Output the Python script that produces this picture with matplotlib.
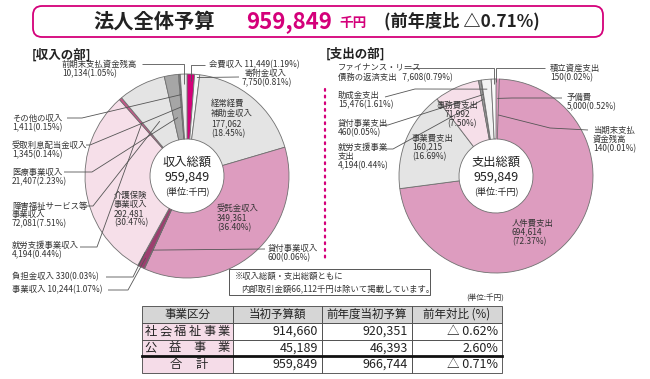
import matplotlib
matplotlib.use('Agg')
import matplotlib.pyplot as plt
from matplotlib.patches import FancyBboxPatch, Rectangle
import numpy as np

plt.rcParams['font.family'] = ['Noto Sans CJK JP', 'DejaVu Sans']

# ---------------- data ----------------
income_names = ['会費収入', '寄附金収入', '経常経費補助金収入', '受託金収入', '貸付事業収入',
                '事業収入', '負担金収入', '介護保険事業収入', '就労支援事業収入',
                '障害福祉サービス等事業収入', '医療事業収入', '受取利息配当金収入',
                'その他の収入', '前期末支払資金残高']
income_values = [11449, 7750, 177062, 349361, 600, 10244, 330, 292481, 4194,
                 72081, 21407, 1345, 1411, 10134]
income_pcts = [1.19, 0.81, 18.45, 36.40, 0.06, 1.07, 0.03, 30.47, 0.44,
               7.51, 2.23, 0.14, 0.15, 1.05]

expense_names = ['積立資産支出', '予備費', '当期末支払資金残高', '人件費支出', '事業費支出',
                 '事務費支出', '就労支援事業支出', '貸付事業支出', '助成金支出',
                 'ファイナンス・リース債務の返済支出']
expense_values = [150, 5000, 140, 694614, 160215, 71992, 4194, 460, 15476, 7608]
expense_pcts = [0.02, 0.52, 0.01, 72.37, 16.69, 7.50, 0.44, 0.05, 1.61, 0.79]

total = 959849
total_change = '△0.71%'
internal_amount = 66112

table_header = ['事業区分', '当初予算額', '前年度当初予算', '前年対比 (%)']
table_names = ['社会福祉事業', '公益事業', '合計']
table_current = [914660, 45189, 959849]
table_previous = [920351, 46393, 966744]
table_ratio = ['△ 0.62%', '2.60%', '△ 0.71%']

# ---------------- style ----------------
W, H = 650, 379
MAG = '#d4007a'
PINK = '#dd9cbf'
LPINK = '#f6dfe9'
LGRAY = '#e4e4e4'
TXT = '#333333'
EDGE = '#707070'

inc_colors = [MAG, '#f7f7f7', LGRAY, PINK, PINK, '#9c3e6f', LPINK, LPINK, '#c9558a',
              LGRAY, '#a6a6a6', LGRAY, LGRAY, '#ececec']
exp_colors = ['#a0003c', PINK, PINK, PINK, LGRAY, LPINK, '#9a9a9a', '#eeeeee',
              '#f2f2f2', '#fafafa']

fig = plt.figure(figsize=(6.5, 3.79), dpi=100)
fig.patch.set_facecolor('white')

PAD = 1.03


def pie_axes(cx, cy, R):
    ax = fig.add_axes([(cx - R * PAD) / W, (H - cy - R * PAD) / H,
                       2 * R * PAD / W, 2 * R * PAD / H])
    return ax


axL = pie_axes(187, 176, 102)
wL, _ = axL.pie(income_values, colors=inc_colors, startangle=90, counterclock=False,
                wedgeprops=dict(width=1 - 37 / 102, edgecolor=EDGE, linewidth=0.6))
axR = pie_axes(496, 176, 97)
wR, _ = axR.pie(expense_values, colors=exp_colors, startangle=90, counterclock=False,
                wedgeprops=dict(width=1 - 37 / 97, edgecolor=EDGE, linewidth=0.6))
for w in wR[1:3]:
    w.set_edgecolor(PINK)
for ax in (axL, axR):
    ax.set_xlim(-PAD, PAD)
    ax.set_ylim(-PAD, PAD)
    ax.set_aspect('auto')
    ax.axis('off')

ov = fig.add_axes([0, 0, 1, 1])
ov.set_xlim(0, W)
ov.set_ylim(H, 0)
ov.axis('off')
ov.patch.set_alpha(0)


def target(ax, wedge, r):
    a = np.deg2rad((wedge.theta1 + wedge.theta2) / 2)
    disp = ax.transData.transform((r * np.cos(a), r * np.sin(a)))
    return ov.transData.inverted().transform(disp)


def label_lines(name, v, p, fmt, breaks):
    parts = []
    prev = 0
    for b in breaks:
        parts.append(name[prev:b])
        prev = b
    parts.append(name[prev:])
    if fmt == 'inline':
        return [f'{name} {v:,}({p:.2f}%)']
    if fmt == 'two':
        return parts + [f'{v:,}({p:.2f}%)']
    if fmt == 'inside':
        return parts + [f'{v:,}', f'({p:.2f}%)']
    if fmt == 'tail':
        return parts[:-1] + [parts[-1] + f'   {v:,}({p:.2f}%)']
    return parts


FS = 6.0
LC = '#555555'


def draw_labels(ax, wedges, names, values, pcts, specs):
    for s in specs:
        i = s['i']
        lines = label_lines(names[i], values[i], pcts[i], s['fmt'], s.get('br', []))
        xs = s['x'] if isinstance(s['x'], list) else [s['x']] * len(lines)
        for k, ln in enumerate(lines):
            ov.text(xs[k], s['y'] + k * s.get('dy', 9.3), ln, fontsize=FS, color=TXT,
                    ha='left', va='center')
        if 'path' in s:
            tx, ty = target(ax, wedges[i], s['r'])
            pts = list(s['path'])
            if s.get('vert'):
                pts.append((tx, pts[-1][1]))
            pts.append((tx, ty))
            xs_, ys_ = zip(*pts)
            ov.plot(xs_, ys_, color=LC, lw=0.6, solid_capstyle='butt')


inc_specs = [
    dict(i=13, x=62, y=64, fmt='two', br=[], path=[(142, 64)], vert=True, r=0.9),
    dict(i=0, x=209, y=65, fmt='inline', path=[(205, 65)], vert=True, r=0.93),
    dict(i=1, x=[245, 242], y=73, dy=10, fmt='two', path=[(239, 77)], r=0.97),
    dict(i=2, x=211, y=103, dy=10.3, fmt='inside', br=[4]),
    dict(i=3, x=217, y=209, fmt='inside'),
    dict(i=7, x=114, y=195, fmt='inside', br=[4]),
    dict(i=4, x=268, y=248, fmt='two', path=[(265, 249)], r=0.8),
    dict(i=5, x=12, y=290, fmt='inline', path=[(108, 290), (128, 290)], r=0.9),
    dict(i=6, x=12, y=277, fmt='inline', path=[(106, 277), (133, 277)], r=0.85),
    dict(i=8, x=12, y=245, fmt='two', path=[(80, 247), (97, 247)], r=0.68),
    dict(i=9, x=12, y=206, dy=8.7, fmt='two', br=[9], path=[(86, 206), (93, 206)], r=0.6),
    dict(i=10, x=12, y=172, fmt='two', path=[(64, 172), (92, 172)], r=0.58),
    dict(i=11, x=12, y=145, dy=10, fmt='two', path=[(86, 145), (90, 145)], r=0.68),
    dict(i=12, x=12, y=118, fmt='two', path=[(67, 118), (82, 118)], r=0.8),
]

exp_specs = [
    dict(i=9, x=338, y=68, fmt='tail', br=[10], path=[(404, 68)], vert=True, r=0.95),
    dict(i=8, x=338, y=95, fmt='two', path=[(385, 97), (415, 89)], r=0.9),
    dict(i=7, x=338, y=123, fmt='two', path=[(381, 125), (388, 125)], r=0.85),
    dict(i=6, x=338, y=147, fmt='two', br=[6], path=[(386, 149), (393, 149)], r=0.8),
    dict(i=0, x=550, y=68, fmt='two', path=[(545, 68)], vert=True, r=0.97),
    dict(i=1, x=567, y=97, fmt='two', path=[(562, 98), (512, 98)], r=0.8),
    dict(i=2, x=593, y=130, fmt='two', br=[5], path=[(588, 130), (550, 128)], r=0.63),
    dict(i=5, x=[437, 445, 447], y=105, fmt='inside'),
    dict(i=4, x=412, y=138, fmt='inside'),
    dict(i=3, x=512, y=223, fmt='inside'),
]

draw_labels(axL, wL, income_names, income_values, income_pcts, inc_specs)
draw_labels(axR, wR, expense_names, expense_values, expense_pcts, exp_specs)

# center texts
for cx, word in ((187, '収入総額'), (496, '支出総額')):
    ov.text(cx, 162, word, fontsize=8.8, ha='center', va='center', color='#222222')
    ov.text(cx, 177, f'{total:,}', fontsize=9.0, ha='center', va='center', color='#222222')
    ov.text(cx, 191, '(単位:千円)', fontsize=6.5, ha='center', va='center', color='#222222')

# title
ov.add_patch(FancyBboxPatch((33, 6), 570, 31, boxstyle='round,pad=0,rounding_size=9',
                            fc='white', ec=MAG, lw=1.3))
ov.text(93, 21.5, '法人全体予算', fontsize=14.6, fontweight='bold', ha='left', va='center',
        color='#222222')
ov.text(246, 21.5, f'{total:,}', fontsize=16, fontweight='bold', ha='left', va='center',
        color=MAG)
ov.text(339, 23, '千円', fontsize=9.8, fontweight='bold', ha='left', va='center', color=MAG)
ov.text(384, 21.5, f'(前年度比 {total_change})', fontsize=12.4, fontweight='bold',
        ha='left', va='center', color='#222222')

# section headers
ov.text(32, 55, '[収入の部]', fontsize=9, fontweight='bold', ha='left', va='center',
        color='#222222')
ov.text(326, 54, '[支出の部]', fontsize=9, fontweight='bold', ha='left', va='center',
        color='#222222')

# dotted separator
ov.plot([325, 325], [89, 258], color=MAG, lw=1.6, linestyle=(0, (0.8, 2.2)),
        dash_capstyle='round')

# note box
ov.add_patch(Rectangle((229, 269), 201, 26, fc='white', ec='#555555', lw=0.7))
ov.text(235, 276, '※収入総額・支出総額ともに', fontsize=6, ha='left', va='center', color=TXT)
ov.text(241, 289, f'内部取引金額{internal_amount:,}千円は除いて掲載しています。', fontsize=6,
        ha='left', va='center', color=TXT)

# table
cols = [142, 233, 322, 412, 502]
rows = [306, 323, 340, 356, 373]
ov.text(466, 299, '(単位:千円)', fontsize=5.5, ha='left', va='center', color=TXT)
for c in range(4):
    ov.add_patch(Rectangle((cols[c], rows[0]), cols[c + 1] - cols[c], rows[1] - rows[0],
                           fc='#d6d6d6', ec='#444444', lw=0.6))
    ov.text((cols[c] + cols[c + 1]) / 2, (rows[0] + rows[1]) / 2, table_header[c],
            fontsize=8.3, ha='center', va='center', color='#222222')
for r in range(3):
    y0, y1 = rows[r + 1], rows[r + 2]
    ym = (y0 + y1) / 2
    ov.add_patch(Rectangle((cols[0], y0), cols[1] - cols[0], y1 - y0, fc='#f5dce8',
                           ec='#444444', lw=0.6))
    for c in range(1, 4):
        ov.add_patch(Rectangle((cols[c], y0), cols[c + 1] - cols[c], y1 - y0, fc='white',
                               ec='#444444', lw=0.6))
    name = table_names[r]
    n = len(name)
    if n == 2:
        xs = [176, 202]
    else:
        xs = np.linspace(cols[0] + 9, cols[1] - 9, n)
    for ch, xx in zip(name, xs):
        ov.text(xx, ym, ch, fontsize=8.8, ha='center', va='center', color='#222222')
    ov.text(cols[2] - 4, ym, f'{table_current[r]:,}', fontsize=9, ha='right', va='center',
            color='#222222')
    ov.text(cols[3] - 4, ym, f'{table_previous[r]:,}', fontsize=9, ha='right', va='center',
            color='#222222')
    ov.text(cols[4] - 4, ym, table_ratio[r], fontsize=9, ha='right', va='center',
            color='#222222')
ov.plot([cols[0], cols[-1]], [rows[3], rows[3]], color='#111111', lw=2.0)

fig.savefig('out.png', dpi=100)
